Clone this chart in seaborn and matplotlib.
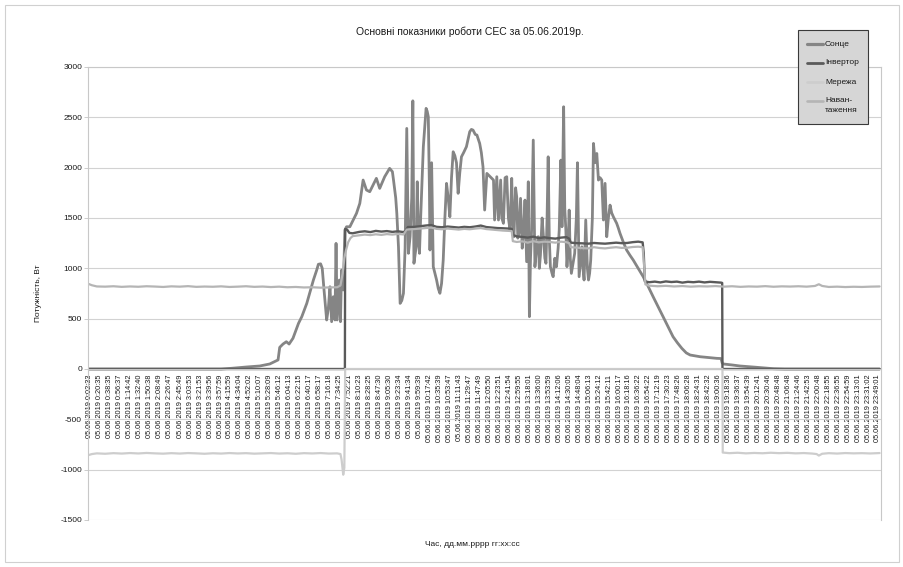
import matplotlib
matplotlib.use("Agg")
import numpy as np
import pandas as pd
import matplotlib.pyplot as plt
from matplotlib.patches import Rectangle
from matplotlib.lines import Line2D
from matplotlib.ticker import MultipleLocator, FixedLocator, FixedFormatter, NullFormatter
import seaborn as sns

# ---------------- data ----------------
title = "Основні показники роботи СЕС за 05.06.2019р."
ylabel = "Потужність, Вт"
xlabel = "Час, дд.мм.рррр гг:хх:сс"
date_str = "05.06.2019"

tick_times = [
    "0:02:33", "0:20:35", "0:38:35", "0:56:37", "1:14:42", "1:32:40", "1:50:38", "2:08:49",
    "2:26:47", "2:45:49", "3:03:53", "3:21:53", "3:39:56", "3:57:59", "4:15:59", "4:34:04",
    "4:52:02", "5:10:07", "5:28:09", "5:46:12", "6:04:13", "6:22:15", "6:40:17", "6:58:17",
    "7:16:18", "7:34:25", "7:52:21", "8:10:23", "8:28:25", "8:47:30", "9:05:30", "9:23:34",
    "9:41:34", "9:59:39", "10:17:42", "10:35:39", "10:53:47", "11:11:43", "11:29:47", "11:47:49",
    "12:05:50", "12:23:51", "12:41:54", "12:59:55", "13:18:01", "13:36:00", "13:53:59", "14:12:06",
    "14:30:05", "14:48:04", "15:06:13", "15:24:12", "15:42:11", "16:00:17", "16:18:16", "16:36:22",
    "16:54:22", "17:12:19", "17:30:23", "17:48:26", "18:06:28", "18:24:31", "18:42:32", "19:00:36",
    "19:18:36", "19:36:37", "19:54:39", "20:12:41", "20:30:46", "20:48:48", "21:06:48", "21:24:46",
    "21:42:53", "22:00:48", "22:18:55", "22:36:55", "22:54:59", "23:13:01", "23:31:02", "23:49:01",
]

series_names = ["Сонце", "Інвертор", "Мережа", "Навантаження"]
legend_labels = ["Сонце", "Інвертор", "Мережа", "Наван-\nтаження"]

# time in minutes since midnight, power in W
sun_t = [0, 240, 259, 286, 310, 328, 343, 346, 352, 358, 363, 370, 380, 386, 395, 401, 407, 413,
         416, 420, 423, 426, 431, 434, 437, 440, 443, 446, 448, 450, 454, 456, 458, 461, 464, 467,
         473, 485, 491, 497, 503, 509, 521, 527, 536, 545, 550, 552, 556, 558, 561, 564, 567, 570,
         573, 576, 579, 582, 585, 587, 589, 593, 595, 597, 599, 601, 606, 611, 613, 615, 617, 618,
         621, 624, 627, 630, 633, 636, 639, 642, 645, 648, 651, 654, 657, 660, 663, 666, 669, 672,
         675, 679, 684, 690, 693, 696, 700, 703, 708, 711, 714, 717, 721, 727, 733, 735, 739, 742,
         746, 748, 751, 754, 757, 760, 763, 766, 768, 770, 773, 775, 777, 779, 782, 785, 787, 790,
         793, 796, 798, 800, 802, 805, 808, 811, 814, 816, 818, 821, 823, 826, 828, 830, 832, 834,
         836, 839, 841, 844, 847, 850, 852, 855, 857, 860, 862, 864, 866, 868, 870, 872, 874, 877,
         880, 883, 885, 888, 891, 893, 895, 897, 900, 903, 905, 907, 909, 912, 914, 917, 920, 923,
         926, 929, 932, 935, 938, 941, 944, 947, 950, 953, 956, 959, 962, 968, 974, 980, 986, 995,
         1004, 1013, 1022, 1031, 1040, 1049, 1058, 1066, 1074, 1082, 1089, 1098, 1107, 1122, 1137,
         1145, 1147, 1149, 1165, 1179, 1194, 1209, 1225, 1240, 1260, 1432]
sun_w = [0, 0, 7, 20, 30, 50, 90, 215, 248, 271, 248, 305, 453, 520, 652, 768, 884, 983,
         1040, 1045, 1000, 800, 487, 600, 817, 470, 718, 487, 1248, 487, 884, 470, 983, 785, 1380, 1413,
         1413, 1546, 1645, 1877, 1778, 1761, 1894, 1794, 1910, 1993, 1960, 1877, 1700, 1546, 1214, 652, 680, 752,
         1200, 2390, 1149, 1314, 1700, 2664, 1050, 1214, 1860, 1300, 1149, 1480, 2208, 2589, 2560, 2505, 1800, 1182,
         2049, 1016, 950, 884, 800, 752, 850, 1082, 1500, 1844, 1700, 1512, 1900, 2158, 2120, 2049, 1745, 1950,
         2108, 2150, 2208, 2357, 2380, 2373, 2330, 2324, 2241, 2150, 2009, 1579, 1943, 1910, 1877, 1480, 1910, 1480,
         1877, 1500, 1447, 1900, 1910, 1500, 1380, 1894, 1450, 1314, 1800, 1711, 1300, 1348, 1695, 1200, 1314, 1678,
         1066, 1860, 520, 1100, 1380, 2274, 1016, 1200, 1314, 1000, 1132, 1500, 1348, 1100, 1050, 1500, 2108, 1300,
         1016, 950, 917, 1100, 1016, 1200, 1380, 2075, 1413, 2605, 1600, 1380, 1016, 1200, 1579, 1100, 950, 1050,
         1149, 1500, 2049, 917, 1100, 1214, 1000, 884, 1480, 1000, 884, 950, 1082, 1500, 2241, 2049, 2141, 1877,
         1900, 1877, 1480, 1844, 1314, 1500, 1628, 1550, 1512, 1480, 1447, 1400, 1348, 1260, 1182, 1130, 1082, 1000,
         917, 820, 718, 620, 520, 420, 321, 260, 205, 160, 139, 130, 122, 114, 106,
         104, 60, 50, 40, 30, 23, 17, 10, 3, 0, 0]

inv_t = [0, 464, 464.5, 468, 472, 478, 484, 490, 500, 510, 520, 530, 540, 550, 560, 570, 574, 578,
         590, 600, 610, 620, 630, 640, 650, 660, 670, 680, 690, 700, 710, 720, 730, 740, 750, 760,
         766, 768, 775, 785, 795, 805, 815, 825, 835, 845, 855, 865, 870, 873, 885, 895, 905, 915,
         925, 935, 945, 955, 965, 975, 985, 995, 1003, 1005, 1007, 1015, 1025, 1035, 1045, 1055,
         1065, 1075, 1085, 1095, 1105, 1115, 1125, 1135, 1145, 1147, 1147.5, 1432]
inv_w = [0, 0, 1390, 1385, 1352, 1348, 1355, 1362, 1368, 1360, 1372, 1365, 1370, 1362, 1368, 1360, 1372, 1410,
         1412, 1418, 1425, 1430, 1412, 1408, 1415, 1410, 1405, 1412, 1408, 1415, 1425, 1410, 1405, 1400, 1398, 1395,
         1392, 1330, 1318, 1312, 1305, 1315, 1300, 1308, 1300, 1295, 1305, 1310, 1295, 1255, 1250, 1248, 1245, 1252,
         1248, 1245, 1250, 1255, 1250, 1252, 1260, 1265, 1258, 1150, 870, 862, 868, 860, 870, 864,
         868, 858, 866, 862, 868, 860, 866, 862, 858, 855, 0, 0]

grid_t = [0, 6, 15, 30, 45, 60, 75, 90, 105, 120, 135, 150, 165, 180, 195, 210, 225, 240, 255, 270,
          285, 300, 315, 330, 345, 360, 375, 390, 405, 420, 435, 450, 456, 458, 461, 463, 464.5,
          1147.5, 1148, 1160, 1175, 1190, 1205, 1220, 1235, 1250, 1265, 1280, 1295, 1310, 1318, 1322,
          1328, 1340, 1355, 1370, 1385, 1400, 1415, 1432]
grid_w = [-855, -845, -838, -842, -836, -840, -835, -839, -834, -838, -841, -836, -840, -835, -838, -842, -837, -840, -835, -839,
          -836, -841, -838, -835, -840, -837, -842, -836, -839, -835, -840, -838, -845, -900, -1050, -980, 0,
          0, -830, -836, -832, -838, -834, -837, -832, -836, -833, -838, -835, -840, -845, -860,
          -842, -836, -840, -835, -838, -836, -839, -835]

load_t = [0, 6, 15, 30, 45, 60, 75, 90, 105, 120, 135, 150, 165, 180, 195, 210, 225, 240, 255, 270,
          285, 300, 315, 330, 345, 360, 375, 390, 405, 420, 435, 450, 456, 460, 463, 466, 470, 474,
          478, 490, 500, 510, 520, 530, 540, 550, 560, 570, 576, 590, 600, 610, 620, 630, 640, 650,
          660, 670, 680, 690, 700, 710, 720, 730, 740, 750, 760, 766, 768, 775, 785, 795, 805, 815,
          825, 835, 845, 855, 865, 870, 873, 885, 895, 905, 915, 925, 935, 945, 955, 965, 975, 985,
          995, 1003, 1006, 1008, 1015, 1030, 1045, 1060, 1075, 1090, 1105, 1120, 1135, 1150, 1165,
          1180, 1195, 1210, 1225, 1240, 1255, 1270, 1285, 1300, 1315, 1322, 1328, 1340, 1355, 1370,
          1385, 1400, 1415, 1432]
load_w = [845, 832, 820, 818, 822, 816, 820, 817, 822, 819, 815, 821, 818, 823, 816, 819, 817, 821, 815, 818,
          822, 816, 819, 814, 818, 812, 815, 810, 812, 808, 810, 812, 830, 950, 1100, 1180, 1260, 1300,
          1320, 1328, 1335, 1330, 1338, 1332, 1340, 1335, 1342, 1336, 1385, 1390, 1395, 1400, 1405, 1392, 1388, 1395,
          1390, 1385, 1392, 1388, 1395, 1400, 1390, 1385, 1380, 1375, 1372, 1370, 1270, 1262, 1268, 1255, 1270, 1258,
          1265, 1262, 1255, 1265, 1260, 1250, 1210, 1205, 1200, 1198, 1210, 1202, 1198, 1205, 1210, 1203, 1205, 1212,
          1215, 1210, 1000, 840, 828, 822, 826, 820, 824, 818, 822, 820, 824, 818, 822,
          816, 820, 818, 823, 817, 821, 819, 822, 818, 825, 842, 825, 815, 818, 814,
          817, 815, 818, 820]

colors = {"Сонце": "#858585", "Інвертор": "#5a5a5a", "Мережа": "#cdcdcd", "Навантаження": "#b5b5b5"}
widths = {"Сонце": 2.0, "Інвертор": 1.7, "Мережа": 1.6, "Навантаження": 1.6}

frames = []
for name, t, w in [("Сонце", sun_t, sun_w), ("Інвертор", inv_t, inv_w),
                   ("Мережа", grid_t, grid_w), ("Навантаження", load_t, load_w)]:
    frames.append(pd.DataFrame({"time": t, "power": w, "series": name}))
df = pd.concat(frames, ignore_index=True)

# ---------------- style ----------------
sns.set_style("white")
plt.rcParams["font.family"] = ["Liberation Sans", "DejaVu Sans"]
plt.rcParams["axes.unicode_minus"] = False

W, H = 904, 567
fig = plt.figure(figsize=(W / 100, H / 100), dpi=100)
ax = fig.add_axes([88.3 / W, 1 - 520 / H, (881 - 88.3) / W, (520 - 67) / H])

for name in series_names:
    sub = df[df["series"] == name]
    sns.lineplot(data=sub, x="time", y="power", color=colors[name], linewidth=widths[name],
                 estimator=None, sort=False, ax=ax, legend=False)

def to_min(s):
    h, m, sec = s.split(":")
    return int(h) * 60 + int(m) + int(sec) / 60.0

tick_pos = [to_min(s) for s in tick_times]
tick_lab = [f"{date_str} {s}" for s in tick_times]
ax.set_xlim(-0.5, 1434.5)
ax.set_ylim(-1500, 3000)
ax.set_yticks(np.arange(-1500, 3001, 500))
ax.xaxis.set_major_locator(FixedLocator(tick_pos))
ax.xaxis.set_major_formatter(FixedFormatter(tick_lab))
ax.xaxis.set_minor_locator(MultipleLocator(4))
ax.xaxis.set_minor_formatter(NullFormatter())
ax.tick_params(axis="x", which="both", length=3, width=0.6, color="#c4c4c4", pad=1,
               direction="out", labelrotation=90, labelsize=5.3, labelcolor="#1a1a1a")
ax.tick_params(axis="y", length=3, width=0.6, color="#c4c4c4", pad=1.5, labelsize=6,
               labelcolor="#1a1a1a", direction="out", left=True)
ax.set_xlabel("")
ax.set_ylabel("")

ax.set_axisbelow(True)
ax.yaxis.grid(True, color="#d2d2d2", linewidth=0.8)
ax.xaxis.grid(False)
for side in ["left", "right", "top"]:
    ax.spines[side].set_color("#c8c8c8")
    ax.spines[side].set_linewidth(0.8)
ax.spines["bottom"].set_position(("data", 0))
ax.spines["bottom"].set_color("#c8c8c8")
ax.spines["bottom"].set_linewidth(0.8)

# texts
fig.text(470 / W, 1 - 32 / H, title, ha="center", va="center", fontsize=7.5, color="#1a1a1a")
fig.text(472 / W, 1 - 545 / H, xlabel, ha="center", va="center", fontsize=6, color="#1a1a1a")
fig.text(38 / W, 1 - 293 / H, ylabel, ha="center", va="center", rotation=90, fontsize=6,
         color="#1a1a1a")

# chart border
fig.patches.append(Rectangle((5 / W, 5 / H), (W - 10) / W, (H - 10) / H, transform=fig.transFigure,
                             fill=False, edgecolor="#d0d0d0", linewidth=0.8))

# legend (manual, in pixel coordinates)
def px(x, y):
    return x / W, 1 - y / H

lx0, ly0, lx1, ly1 = 798, 30, 868, 124
fig.patches.append(Rectangle(px(lx0, ly1), (lx1 - lx0) / W, (ly1 - ly0) / H, transform=fig.transFigure,
                             facecolor="#d6d6d6", edgecolor="#3a3a3a", linewidth=0.8, zorder=5))
rows_y = [44, 63, 82, 101]
for name, lab, yy in zip(series_names, legend_labels, rows_y):
    x0, y0 = px(807, yy)
    x1, _ = px(823, yy)
    fig.lines.append(Line2D([x0, x1], [y0, y0], transform=fig.transFigure, color=colors[name],
                            linewidth=widths[name] + 0.3, zorder=6))
    parts = lab.split("\n")
    for k, part in enumerate(parts):
        tx, ty = px(825, yy + 10 * k)
        fig.text(tx, ty, part, ha="left", va="center", fontsize=6, color="#1a1a1a", zorder=7)

fig.savefig("out.png", dpi=100)
